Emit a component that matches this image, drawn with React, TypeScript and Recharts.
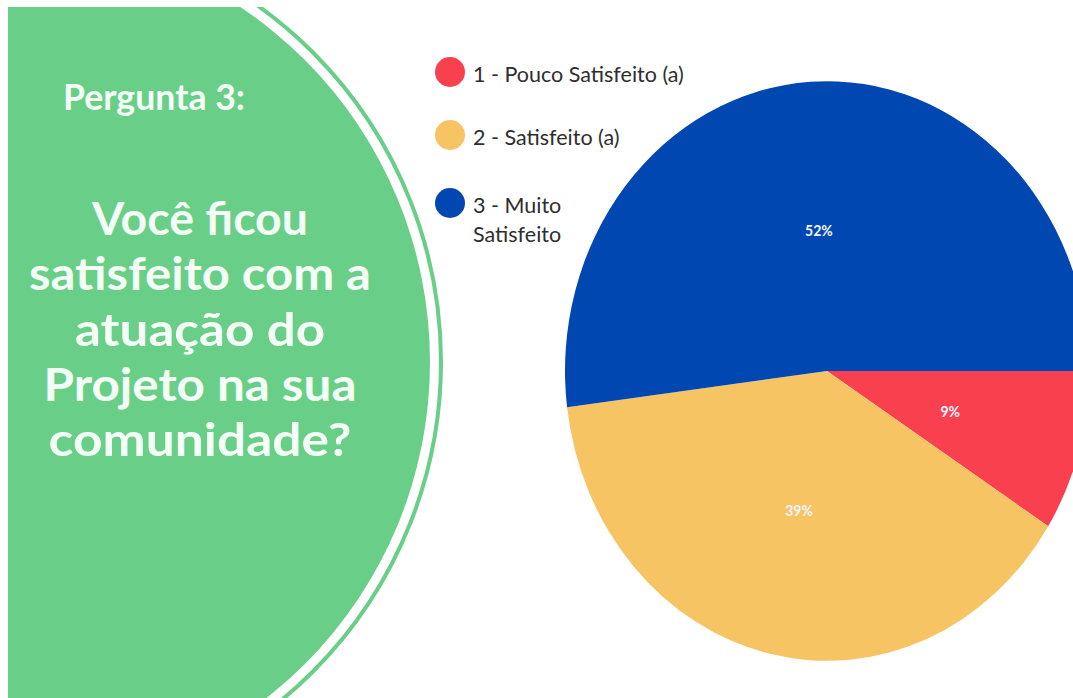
import { PieChart, Pie, Cell } from "recharts";

const categories = ["1 - Pouco Satisfeito (a)", "2 - Satisfeito (a)", "3 - Muito Satisfeito"];
const legendLines = [["1 - Pouco Satisfeito (a)"], ["2 - Satisfeito (a)"], ["3 - Muito", "Satisfeito"]];
const percents = [9, 39, 52];
const colors = ["#F9404F", "#F6C463", "#0047B2"];

const questionTitle = "Pergunta 3:";
const questionLines = ["Você ficou", "satisfeito com a", "atuação do", "Projeto na sua", "comunidade?"];
const questionWidths = [216, 342, 250, 313, 303];

const data = categories.map((name, i) => ({ name, value: percents[i] }));

const GREEN = "#69CF88";
const STRETCH = 1.106;
const RADIAN = Math.PI / 180;

function renderLabel(props: any) {
  const { cx, cy, midAngle, outerRadius, value } = props;
  const r = outerRadius * 0.49;
  const x = cx + r * Math.cos(-midAngle * RADIAN);
  const y = cy + r * Math.sin(-midAngle * RADIAN);
  return (
    <text
      x={x}
      y={y}
      fill="#F2F5FF"
      textAnchor="middle"
      dominantBaseline="central"
      fontFamily="Lato"
      fontWeight={700}
      fontSize={14}
    >
      {value}%
    </text>
  );
}

export default function App() {
  return (
    <div
      style={{
        position: "absolute",
        left: 0,
        top: 0,
        width: 1073,
        height: 698,
        background: "#fff",
        overflow: "hidden",
      }}
    >
      <svg width={1073} height={698} style={{ position: "absolute", left: 0, top: 0 }}>
        <defs>
          <clipPath id="frame">
            <rect x={8} y={7} width={1065} height={691} />
          </clipPath>
        </defs>
        <g clipPath="url(#frame)">
          <circle cx={3} cy={362} r={427} fill={GREEN} />
          <circle cx={3} cy={362} r={438} fill="none" stroke={GREEN} strokeWidth={4} />
        </g>
        <text
          x={63}
          y={110}
          fill="#F4FFF5"
          fontFamily="Lato"
          fontWeight={700}
          fontSize={36}
          textLength={182}
          lengthAdjust="spacingAndGlyphs"
        >
          {questionTitle}
        </text>
        {questionLines.map((line, i) => (
          <text
            key={line}
            x={200}
            y={235 + i * 55.3}
            fill="#F4FFF5"
            textAnchor="middle"
            fontFamily="Lato"
            fontWeight={700}
            fontSize={46}
            textLength={questionWidths[i]}
            lengthAdjust="spacingAndGlyphs"
          >
            {line}
          </text>
        ))}
        {legendLines.map((lines, i) => {
          const cyDot = [72, 135, 203][i];
          return (
            <g key={i}>
              <circle cx={450} cy={cyDot} r={15} fill={colors[i]} />
              <text fill="#2E2E2E" fontFamily="Lato" fontSize={21.5}>
                {lines.map((t, j) => (
                  <tspan key={t} x={473} y={cyDot + 10 + j * 29}>
                    {t}
                  </tspan>
                ))}
              </text>
            </g>
          );
        })}
      </svg>
      <div
        style={{
          position: "absolute",
          left: 0,
          top: 0,
          width: 1073,
          height: 698,
          transform: `scaleY(${STRETCH})`,
          transformOrigin: "0px 371px",
        }}
      >
        <PieChart width={1073} height={698} margin={{ top: 0, right: 0, bottom: 0, left: 0 }}>
          <Pie
            data={data}
            dataKey="value"
            nameKey="name"
            cx={827}
            cy={371}
            outerRadius={262}
            startAngle={0}
            endAngle={-360}
            stroke="none"
            label={renderLabel}
            labelLine={false}
            isAnimationActive={false}
          >
            {data.map((d, i) => (
              <Cell key={d.name} fill={colors[i]} />
            ))}
          </Pie>
        </PieChart>
      </div>
    </div>
  );
}
